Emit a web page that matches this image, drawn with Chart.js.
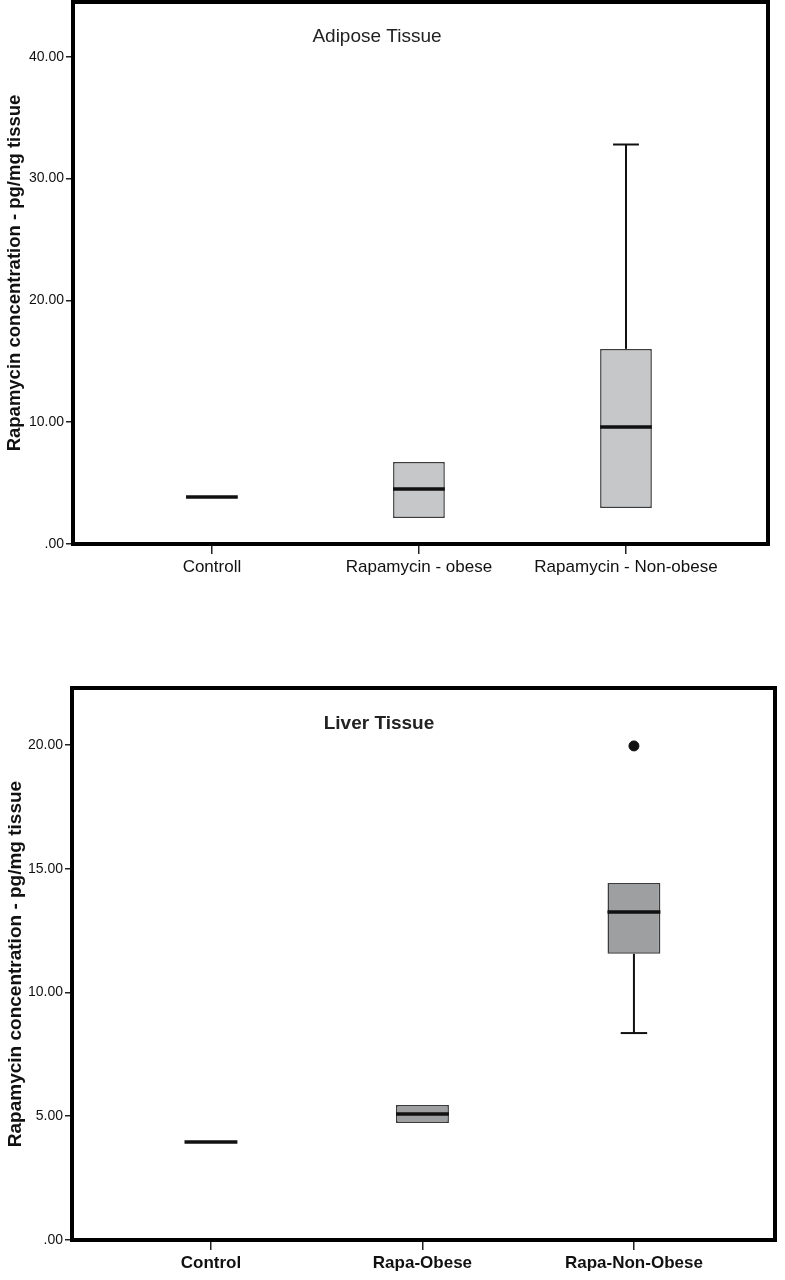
<!DOCTYPE html>
<html>
<head>
<meta charset="utf-8">
<script src="https://cdn.jsdelivr.net/npm/chart.js@4/dist/chart.umd.min.js"></script>
<style>
    body { margin: 0; background: #fff; }
    canvas { display: block; }
</style>
</head>
<body>
<canvas id="adiposeChart" width="785" height="600"></canvas>
<canvas id="liverChart" width="785" height="680"></canvas>
<script>
// Adipose tissue data
const adiposeLabels = ['Controll', 'Rapamycin - obese', 'Rapamycin - Non-obese'];
const adiposeLow = [3.86, 2.14, 2.96];
const adiposeQ1 = [3.86, 2.14, 2.96];
const adiposeMedian = [3.86, 4.52, 9.61];
const adiposeQ3 = [3.86, 6.74, 16.02];
const adiposeHigh = [3.86, 6.74, 32.8];
const adiposeTicks = [0, 10, 20, 30, 40];

// Liver tissue data
const liverLabels = ['Control', 'Rapa-Obese', 'Rapa-Non-Obese'];
const liverLow = [3.96, 4.73, 8.36];
const liverQ1 = [3.96, 4.73, 11.56];
const liverMedian = [3.96, 5.09, 13.25];
const liverQ3 = [3.96, 5.45, 14.42];
const liverHigh = [3.96, 5.45, 14.42];
const liverOutlierGroup = [2];
const liverOutlierValue = [19.96];
const liverTicks = [0, 5, 10, 15, 20];

const Y_TITLE = 'Rapamycin concentration - pg/mg tissue';
const NARROW = "'Liberation Sans Narrow', 'Arial Narrow', 'Liberation Sans', Arial, sans-serif";
const SANS = "'Liberation Sans', Arial, sans-serif";

// Whiskers, caps and medians drawn through the chart scales
const boxWhiskers = {
    id: 'boxWhiskers',
    afterDatasetsDraw(chart, args, opts) {
        const { ctx, scales: { x, y } } = chart;
        const bars = chart.getDatasetMeta(0).data;
        ctx.save();
        opts.median.forEach((m, i) => {
            const cx = x.getPixelForValue(i);
            const w = bars[i].width;
            // whiskers
            ctx.strokeStyle = '#111';
            ctx.lineWidth = 2;
            [[opts.q3[i], opts.high[i]], [opts.q1[i], opts.low[i]]].forEach(([from, to]) => {
                if (to === from) return;
                ctx.beginPath();
                ctx.moveTo(cx, y.getPixelForValue(from));
                ctx.lineTo(cx, y.getPixelForValue(to));
                ctx.stroke();
                ctx.beginPath();
                ctx.moveTo(cx - w / 4, y.getPixelForValue(to));
                ctx.lineTo(cx + w / 4, y.getPixelForValue(to));
                ctx.stroke();
            });
            // median
            ctx.lineWidth = 3.5;
            ctx.beginPath();
            ctx.moveTo(cx - w / 2, y.getPixelForValue(m));
            ctx.lineTo(cx + w / 2, y.getPixelForValue(m));
            ctx.stroke();
        });
        ctx.restore();
    },
    afterDraw(chart, args, opts) {
        const { ctx, chartArea: a } = chart;
        ctx.save();
        // heavy frame
        ctx.strokeStyle = '#000';
        ctx.lineWidth = 4;
        ctx.strokeRect(a.left, a.top, a.right - a.left, a.bottom - a.top);
        // inner title
        ctx.fillStyle = '#222';
        ctx.font = opts.titleFont;
        ctx.textAlign = 'center';
        ctx.textBaseline = 'middle';
        ctx.fillText(opts.title, opts.titleX, opts.titleY);
        ctx.restore();
    }
};

// no extra room for edge labels, the frame sits where the layout says
function noEdgePadding(s) {
    s.paddingTop = 0;
    s.paddingBottom = 0;
    s.paddingLeft = 0;
    s.paddingRight = 0;
}

function makeBoxChart(canvasId, c) {
    const ctx = document.getElementById(canvasId).getContext('2d');
    const datasets = [{
        type: 'bar',
        data: c.labels.map((_, i) => ({ x: i, y: [c.q1[i], c.q3[i]] })),
        backgroundColor: c.fill,
        borderColor: '#3c3c3c',
        borderWidth: 1.5,
        borderSkipped: false,
        categoryPercentage: 1,
        barPercentage: 0.25
    }];
    if (c.outlierGroup) {
        datasets.push({
            type: 'scatter',
            data: c.outlierGroup.map((g, i) => ({ x: g, y: c.outlierValue[i] })),
            backgroundColor: '#111',
            borderColor: '#111',
            pointRadius: 5
        });
    }

    return new Chart(ctx, {
        type: 'bar',
        data: { datasets: datasets },
        options: {
            responsive: false,
            animation: false,
            layout: { padding: c.padding },
            plugins: {
                legend: { display: false },
                tooltip: { enabled: false },
                boxWhiskers: {
                    low: c.low, q1: c.q1, median: c.median, q3: c.q3, high: c.high,
                    title: c.title, titleFont: c.titleFont, titleX: c.titleX, titleY: c.titleY
                }
            },
            scales: {
                x: {
                    type: 'linear',
                    offset: false,
                    min: c.xMin,
                    max: c.xMax,
                    afterBuildTicks: s => { s.ticks = c.labels.map((_, i) => ({ value: i })); },
                    afterFit: s => { s.height = c.xHeight; noEdgePadding(s); },
                    grid: { offset: false, drawOnChartArea: false, drawTicks: true, tickLength: 10, color: '#222', lineWidth: 1.5 },
                    border: { display: false },
                    ticks: {
                        padding: 3,
                        color: '#111',
                        maxRotation: 0,
                        autoSkip: false,
                        font: { family: NARROW, size: c.xFontSize, weight: c.xWeight },
                        callback: v => c.labels[v]
                    }
                },
                y: {
                    min: 0,
                    max: c.yMax,
                    afterBuildTicks: s => { s.ticks = c.ticks.map(v => ({ value: v })); },
                    afterFit: s => { s.width = c.yWidth; noEdgePadding(s); },
                    grid: { drawOnChartArea: false, drawTicks: true, tickLength: 7, color: '#222', lineWidth: 1.5 },
                    border: { display: false },
                    ticks: {
                        padding: 2,
                        color: '#111',
                        font: { family: SANS, size: 14 },
                        callback: v => v === 0 ? '.00' : v.toFixed(2)
                    },
                    title: {
                        display: true,
                        text: Y_TITLE,
                        color: '#111',
                        padding: { top: 4 },
                        font: { family: SANS, size: c.yTitleSize, weight: 'bold' }
                    }
                }
            }
        },
        plugins: [boxWhiskers]
    });
}

makeBoxChart('adiposeChart', {
    labels: adiposeLabels, low: adiposeLow, q1: adiposeQ1, median: adiposeMedian, q3: adiposeQ3, high: adiposeHigh,
    ticks: adiposeTicks, yMax: 44.5, xMin: -0.671, xMax: 2.686,
    fill: '#c6c7c9',
    padding: { top: 2, right: 17, left: 0, bottom: 0 }, yWidth: 73, xHeight: 56,
    xFontSize: 17, xWeight: 'normal', yTitleSize: 18.5,
    title: 'Adipose Tissue', titleFont: `19px ${SANS}`, titleX: 377, titleY: 37
});

makeBoxChart('liverChart', {
    labels: liverLabels, low: liverLow, q1: liverQ1, median: liverMedian, q3: liverQ3, high: liverHigh,
    outlierGroup: liverOutlierGroup, outlierValue: liverOutlierValue,
    ticks: liverTicks, yMax: 22.3, xMin: -0.657, xMax: 2.667,
    fill: '#9e9fa1',
    padding: { top: 88, right: 10, left: 0, bottom: 0 }, yWidth: 72, xHeight: 40,
    xFontSize: 17, xWeight: 'bold', yTitleSize: 19,
    title: 'Liver Tissue', titleFont: `bold 19px ${SANS}`, titleX: 379, titleY: 124
});
</script>
</body>
</html>
